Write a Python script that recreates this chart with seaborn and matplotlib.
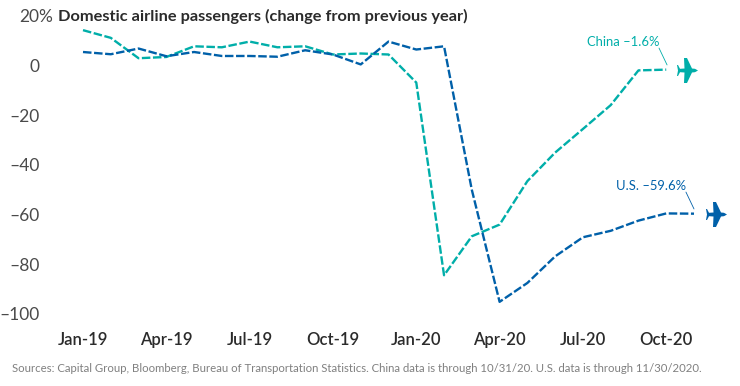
import matplotlib
matplotlib.use("Agg")
import matplotlib.pyplot as plt
import matplotlib.transforms as mtrans
from matplotlib.path import Path
import numpy as np
import seaborn as sns

months = ["Jan-19", "Feb-19", "Mar-19", "Apr-19", "May-19", "Jun-19", "Jul-19", "Aug-19",
          "Sep-19", "Oct-19", "Nov-19", "Dec-19", "Jan-20", "Feb-20", "Mar-20", "Apr-20",
          "May-20", "Jun-20", "Jul-20", "Aug-20", "Sep-20", "Oct-20", "Nov-20"]
china = [14.3, 11.2, 3.0, 3.5, 7.8, 7.4, 9.7, 7.4, 7.8, 4.5, 4.9, 4.5, -6.8, -84.4, -68.7,
         -64.0, -46.5, -35.0, -25.5, -15.9, -1.9, -1.6]
us = [5.5, 4.6, 6.9, 3.8, 5.5, 3.9, 3.9, 3.6, 6.2, 4.5, 0.5, 9.7, 6.5, 7.8, -50.0, -95.1,
      -87.5, -76.8, -69.1, -66.5, -62.4, -59.5, -59.6]
y_ticks = [20, 0, -20, -40, -60, -80, -100]
y_labels = ["20%", "0", "–20", "–40", "–60", "–80", "–100"]

teal = "#00aea9"
blue = "#0060a9"
dash = (0, (3.6, 1.1))

sns.set_theme(style="white")
plt.rcParams["font.family"] = ["Lato", "DejaVu Sans"]

fig = plt.figure(figsize=(7.4, 3.86), dpi=100)
# axes box runs from Jan-19 to Nov-20 and from 20 to -100
ax = fig.add_axes([83 / 740, 1 - 314 / 386, (694 - 83) / 740, (314 - 16) / 386])

x = np.arange(len(months))
sns.lineplot(x=x[:len(china)], y=china, color=teal, linewidth=1.7, linestyle=dash, ax=ax, clip_on=False)
sns.lineplot(x=x, y=us, color=blue, linewidth=1.7, linestyle=dash, ax=ax, clip_on=False)

ax.set_xlim(0, 22)
ax.set_ylim(-100, 20)
sns.despine(ax=ax, left=True, bottom=True)

ax.set_xticks(x[::3])
ax.set_xticklabels(months[::3], fontsize=12, fontweight="semibold", color="#2b2b2b")
ax.tick_params(axis="x", length=0, pad=13)
ax.set_yticks(y_ticks)
ax.set_yticklabels(y_labels, fontsize=12.5, color="#4a4a4a")
ax.tick_params(axis="y", length=0, pad=31)
# 20% hangs out to the right of the other labels
lab = ax.get_yticklabels()[0]
lab.set_transform(lab.get_transform() + mtrans.ScaledTranslation(13 / 100, 0, fig.dpi_scale_trans))

fig.text(58 / 740, 1 - 16 / 386, "Domestic airline passengers (change from previous year)",
         fontsize=11.75, fontweight="bold", color="#2b2b2b", va="center")
fig.text(12 / 740, 1 - 369 / 386,
         "Sources: Capital Group, Bloomberg, Bureau of Transportation Statistics. China data is through 10/31/20. U.S. data is through 11/30/2020.",
         fontsize=8.2, color="#808080", va="center")

# plane pointing right
top = [(1.05, 0), (0.75, 0.17), (0.45, 0.2), (-0.05, 1.25), (-0.35, 1.25), (-0.3, 0.2),
       (-0.75, 0.17), (-0.95, 0.55), (-1.05, 0.55), (-0.95, 0)]
bottom = [(a, -b) for a, b in top[-2:0:-1]]
verts = top + bottom + [top[0]]
plane = Path(verts, closed=True)
ax.plot([21.74], [-1.6], marker=plane, markersize=18, color=teal, mew=0, clip_on=False, ls="none")
ax.plot([22.78], [-59.6], marker=plane, markersize=18, color=blue, mew=0, clip_on=False, ls="none")

ax.text(20.74, 9.5, "China –1.6%", color=teal, fontsize=9.4, ha="right", va="center")
ax.text(21.71, -48.5, "U.S. –59.6%", color=blue, fontsize=9.4, ha="right", va="center")
ax.plot([20.74, 21.03], [7.1, 0.3], color=teal, linewidth=0.6, clip_on=False)
ax.plot([21.71, 22.0], [-50.9, -57.7], color=blue, linewidth=0.6, clip_on=False)

fig.savefig("out.png", dpi=100)
